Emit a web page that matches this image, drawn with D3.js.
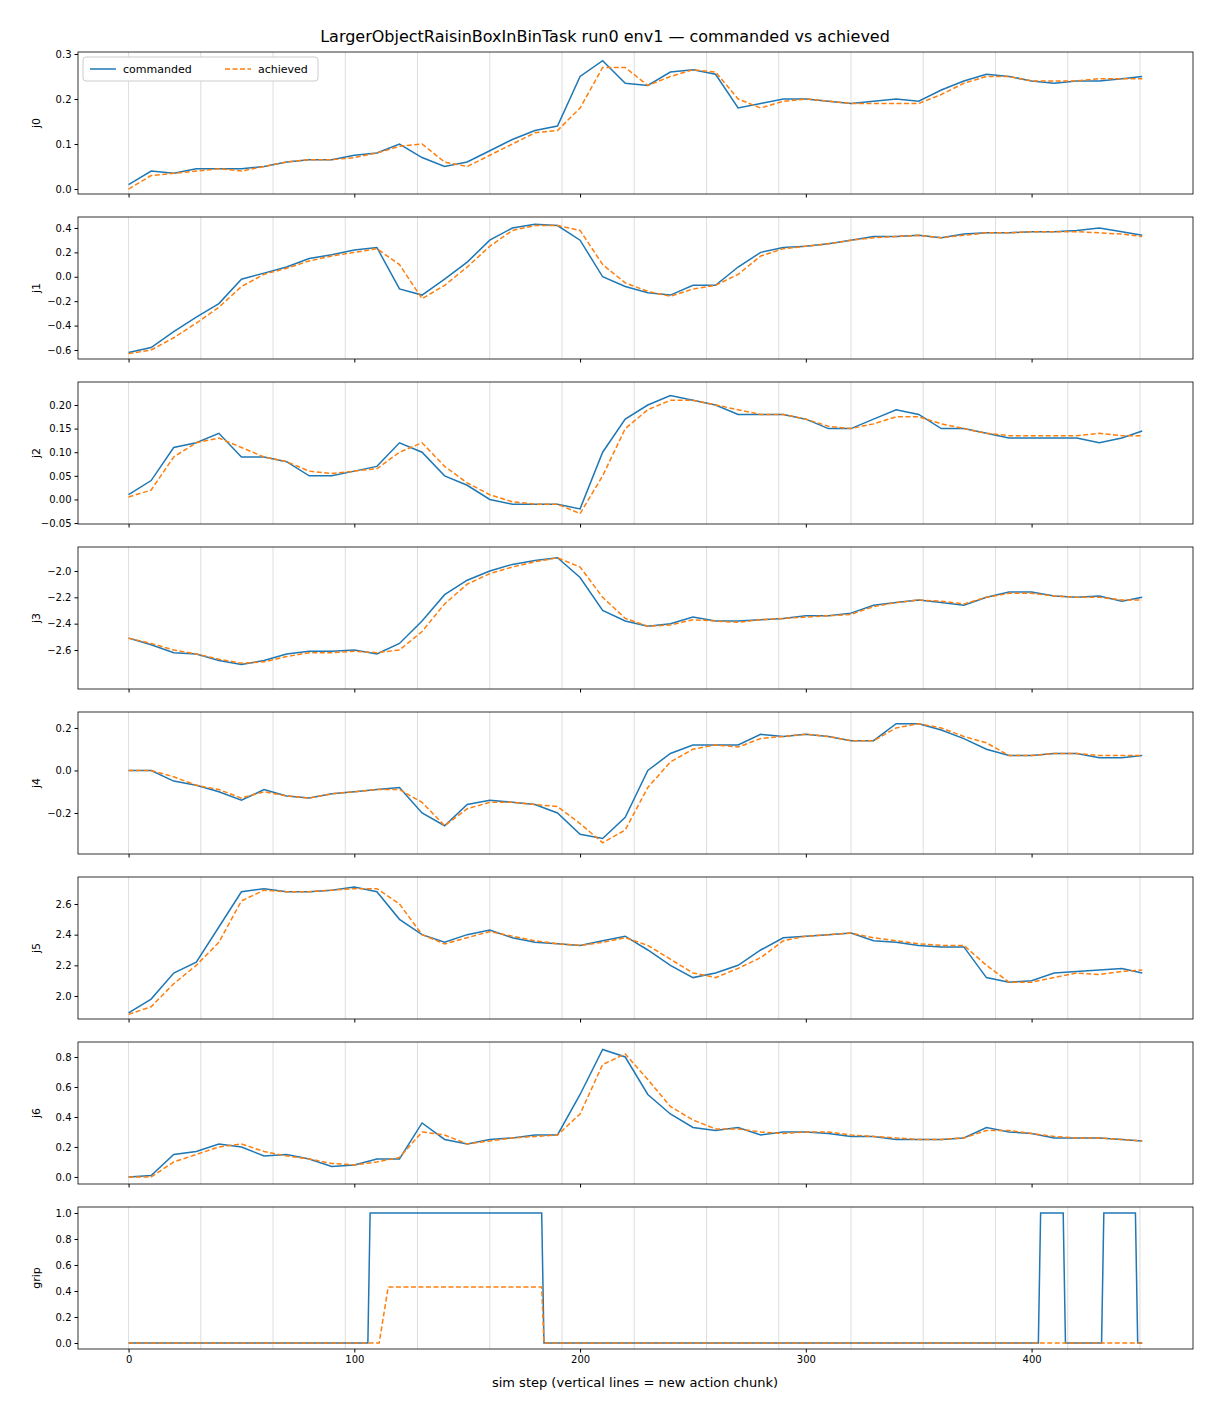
<!DOCTYPE html>
<html><head><meta charset="utf-8">
<script src="https://cdn.jsdelivr.net/npm/d3@7"></script>
<style>body{margin:0;background:#fff;font-family:"DejaVu Sans",sans-serif}</style>
</head><body><div id="chart"></div>
<script>
// sampled every 10 sim steps (last at 449)
const steps = [0,10,20,30,40,50,60,70,80,90,100,110,120,130,140,150,160,170,180,190,200,210,220,230,240,250,260,270,280,290,300,310,320,330,340,350,360,370,380,390,400,410,420,430,440,449];
const joints = ['j0','j1','j2','j3','j4','j5','j6'];
const cmd_j0 = [0.01,0.04,0.035,0.045,0.045,0.045,0.05,0.06,0.065,0.065,0.075,0.08,0.10,0.07,0.05,0.06,0.085,0.11,0.13,0.14,0.25,0.285,0.235,0.23,0.26,0.265,0.255,0.18,0.19,0.2,0.2,0.195,0.19,0.195,0.2,0.195,0.22,0.24,0.255,0.25,0.24,0.235,0.24,0.24,0.245,0.25];
const ach_j0 = [0.0,0.03,0.035,0.04,0.045,0.04,0.05,0.06,0.065,0.065,0.07,0.08,0.095,0.10,0.06,0.05,0.075,0.1,0.125,0.13,0.18,0.27,0.27,0.23,0.25,0.265,0.26,0.2,0.18,0.195,0.2,0.195,0.19,0.19,0.19,0.19,0.21,0.235,0.25,0.25,0.24,0.24,0.24,0.245,0.245,0.245];
const cmd_j1 = [-0.62,-0.58,-0.45,-0.33,-0.22,-0.02,0.03,0.08,0.15,0.18,0.22,0.24,-0.1,-0.15,-0.02,0.12,0.3,0.4,0.43,0.42,0.3,0.0,-0.08,-0.13,-0.15,-0.07,-0.07,0.08,0.2,0.24,0.25,0.27,0.3,0.33,0.33,0.34,0.32,0.35,0.36,0.36,0.37,0.37,0.38,0.4,0.37,0.34];
const ach_j1 = [-0.63,-0.6,-0.5,-0.38,-0.25,-0.08,0.02,0.07,0.13,0.17,0.2,0.23,0.1,-0.18,-0.07,0.08,0.25,0.38,0.42,0.42,0.38,0.1,-0.05,-0.12,-0.16,-0.1,-0.07,0.02,0.17,0.23,0.25,0.27,0.3,0.32,0.33,0.34,0.32,0.34,0.36,0.36,0.37,0.37,0.37,0.36,0.35,0.33];
const cmd_j2 = [0.01,0.04,0.11,0.12,0.14,0.09,0.09,0.08,0.05,0.05,0.06,0.07,0.12,0.1,0.05,0.03,0.0,-0.01,-0.01,-0.01,-0.02,0.1,0.17,0.2,0.22,0.21,0.2,0.18,0.18,0.18,0.17,0.15,0.15,0.17,0.19,0.18,0.15,0.15,0.14,0.13,0.13,0.13,0.13,0.12,0.13,0.145];
const ach_j2 = [0.005,0.02,0.09,0.12,0.13,0.11,0.09,0.08,0.06,0.055,0.06,0.065,0.1,0.12,0.07,0.035,0.01,-0.005,-0.01,-0.01,-0.03,0.05,0.15,0.19,0.21,0.21,0.2,0.19,0.18,0.18,0.17,0.155,0.15,0.16,0.175,0.175,0.16,0.15,0.14,0.135,0.135,0.135,0.135,0.14,0.135,0.135];
const cmd_j3 = [-2.51,-2.56,-2.62,-2.63,-2.68,-2.71,-2.68,-2.63,-2.61,-2.61,-2.6,-2.63,-2.55,-2.38,-2.18,-2.07,-2.0,-1.95,-1.92,-1.9,-2.05,-2.3,-2.38,-2.42,-2.4,-2.35,-2.38,-2.38,-2.37,-2.36,-2.34,-2.34,-2.32,-2.26,-2.24,-2.22,-2.24,-2.26,-2.2,-2.16,-2.16,-2.19,-2.2,-2.19,-2.23,-2.2];
const ach_j3 = [-2.51,-2.55,-2.6,-2.63,-2.67,-2.7,-2.69,-2.65,-2.62,-2.62,-2.61,-2.62,-2.6,-2.46,-2.25,-2.1,-2.02,-1.97,-1.93,-1.9,-1.97,-2.2,-2.36,-2.42,-2.41,-2.37,-2.38,-2.39,-2.37,-2.36,-2.35,-2.34,-2.33,-2.27,-2.24,-2.22,-2.23,-2.25,-2.2,-2.17,-2.17,-2.19,-2.2,-2.2,-2.22,-2.22];
const cmd_j4 = [0.0,0.0,-0.05,-0.07,-0.1,-0.14,-0.09,-0.12,-0.13,-0.11,-0.1,-0.09,-0.08,-0.2,-0.26,-0.16,-0.14,-0.15,-0.16,-0.2,-0.3,-0.32,-0.22,0.0,0.08,0.12,0.12,0.12,0.17,0.16,0.17,0.16,0.14,0.14,0.22,0.22,0.19,0.15,0.1,0.07,0.07,0.08,0.08,0.06,0.06,0.07];
const ach_j4 = [0.0,0.0,-0.03,-0.07,-0.09,-0.13,-0.1,-0.12,-0.13,-0.11,-0.1,-0.09,-0.09,-0.15,-0.26,-0.18,-0.15,-0.15,-0.16,-0.17,-0.25,-0.34,-0.28,-0.08,0.04,0.1,0.12,0.11,0.15,0.16,0.17,0.16,0.14,0.14,0.2,0.22,0.2,0.16,0.13,0.07,0.07,0.08,0.08,0.07,0.07,0.07];
const cmd_j5 = [1.89,1.98,2.15,2.22,2.45,2.68,2.7,2.68,2.68,2.69,2.71,2.68,2.5,2.4,2.35,2.4,2.43,2.38,2.35,2.34,2.33,2.36,2.39,2.3,2.2,2.12,2.15,2.2,2.3,2.38,2.39,2.4,2.41,2.36,2.35,2.33,2.32,2.32,2.12,2.09,2.1,2.15,2.16,2.17,2.18,2.15];
const ach_j5 = [1.88,1.93,2.08,2.2,2.35,2.62,2.69,2.68,2.68,2.69,2.7,2.7,2.6,2.4,2.34,2.38,2.42,2.39,2.36,2.34,2.33,2.35,2.38,2.33,2.24,2.15,2.12,2.18,2.25,2.36,2.39,2.4,2.41,2.38,2.36,2.34,2.33,2.33,2.2,2.09,2.09,2.12,2.15,2.14,2.16,2.17];
const cmd_j6 = [0.0,0.01,0.15,0.17,0.22,0.2,0.14,0.15,0.12,0.07,0.08,0.12,0.12,0.36,0.25,0.22,0.25,0.26,0.28,0.28,0.55,0.85,0.8,0.55,0.42,0.33,0.31,0.33,0.28,0.3,0.3,0.29,0.27,0.27,0.25,0.25,0.25,0.26,0.33,0.3,0.29,0.26,0.26,0.26,0.25,0.24];
const ach_j6 = [0.0,0.0,0.1,0.15,0.2,0.22,0.17,0.14,0.12,0.09,0.08,0.1,0.13,0.3,0.28,0.22,0.24,0.26,0.27,0.28,0.42,0.75,0.82,0.65,0.47,0.38,0.32,0.32,0.3,0.29,0.3,0.3,0.28,0.27,0.26,0.25,0.25,0.26,0.31,0.31,0.29,0.27,0.26,0.26,0.25,0.24];
// gripper: change points
const grip_cmd_x = [0,106,107,183,184,403,404,414,415,431,432,446,447,449];
const grip_cmd_y = [0,0,1,1,0,0,1,1,0,0,1,1,0,0];
const grip_ach_x = [0,111,115,183,184,449];
const grip_ach_y = [0,0,0.43,0.43,0,0];
const chunkStarts = [0,32,64,96,128,160,192,224,256,288,320,352,384,416,448];

const cmd = [cmd_j0,cmd_j1,cmd_j2,cmd_j3,cmd_j4,cmd_j5,cmd_j6];
const ach = [ach_j0,ach_j1,ach_j2,ach_j3,ach_j4,ach_j5,ach_j6];
const yDomains = [[-0.011,0.3044],[-0.674,0.49],[-0.052,0.2487],[-2.896,-1.818],[-0.393,0.275],[1.85,2.776],[-0.047,0.9],[-0.046,1.046]];
const yTicks = [[0,0.1,0.2,0.3],[-0.6,-0.4,-0.2,0,0.2,0.4],[-0.05,0,0.05,0.1,0.15,0.2],[-2.6,-2.4,-2.2,-2.0],[-0.2,0,0.2],[2.0,2.2,2.4,2.6],[0,0.2,0.4,0.6,0.8],[0,0.2,0.4,0.6,0.8,1.0]];
const yFmt = ['.1f','.1f','.2f','.1f','.1f','.1f','.1f','.1f'];

const W = 1210, H = 1408, L = 78, R = 1193, ph = 142;
const tops = [52,217,382,547,712,877,1042,1207];
const blue = '#1f77b4', orange = '#ff7f0e';
const svg = d3.select('#chart').append('svg').attr('width',W).attr('height',H);
const x = d3.scaleLinear().domain([-22.4,471.5]).range([L,R]);

svg.append('text').attr('x',605).attr('y',42).attr('text-anchor','middle')
  .attr('font-size',16).text('LargerObjectRaisinBoxInBinTask run0 env1 — commanded vs achieved');

tops.forEach((t,i)=>{
  const g = svg.append('g');
  const y = d3.scaleLinear().domain(yDomains[i]).range([t+ph,t]);
  g.selectAll('line.chunk').data(chunkStarts).enter().append('line')
    .attr('x1',d=>x(d)).attr('x2',d=>x(d)).attr('y1',t).attr('y2',t+ph)
    .attr('stroke','#ccc').attr('stroke-width',0.8).attr('opacity',0.8);
  let cd, ad;
  if(i<7){ cd = steps.map((s,k)=>[s,cmd[i][k]]); ad = steps.map((s,k)=>[s,ach[i][k]]); }
  else { cd = grip_cmd_x.map((s,k)=>[s,grip_cmd_y[k]]); ad = grip_ach_x.map((s,k)=>[s,grip_ach_y[k]]); }
  const line = d3.line().x(d=>x(d[0])).y(d=>y(d[1]));
  g.append('path').attr('d',line(cd)).attr('fill','none').attr('stroke',blue).attr('stroke-width',1.5);
  g.append('path').attr('d',line(ad)).attr('fill','none').attr('stroke',orange).attr('stroke-width',1.5).attr('stroke-dasharray','5,2.5');
  const ya = g.append('g').attr('transform',`translate(${L},0)`)
    .call(d3.axisLeft(y).tickValues(yTicks[i]).tickFormat(d=>d3.format(yFmt[i])(d).replace('-','−')).tickSize(3.5));
  ya.select('.domain').remove();
  ya.selectAll('text').attr('font-size',10).attr('font-family','DejaVu Sans');
  const xa = g.append('g').attr('transform',`translate(0,${t+ph})`)
    .call(d3.axisBottom(x).tickValues([0,100,200,300,400]).tickSize(3.5).tickFormat(i===7?d3.format('d'):''));
  xa.select('.domain').remove();
  xa.selectAll('text').attr('font-size',10).attr('font-family','DejaVu Sans');
  g.append('rect').attr('x',L).attr('y',t).attr('width',R-L).attr('height',ph)
    .attr('fill','none').attr('stroke','#000').attr('stroke-width',0.8);
  g.append('text').attr('transform',`translate(40,${t+ph/2}) rotate(-90)`)
    .attr('text-anchor','middle').attr('font-size',11).text(i<7?joints[i]:'grip');
});

svg.append('text').attr('x',635).attr('y',1387).attr('text-anchor','middle').attr('font-size',13)
  .text('sim step (vertical lines = new action chunk)');

const lg = svg.append('g').attr('transform','translate(83,57)');
lg.append('rect').attr('width',235).attr('height',24).attr('rx',3).attr('fill','#fff')
  .attr('stroke','#ccc');
[['commanded',blue,null,7],['achieved',orange,'5,2.5',142]].forEach(([n,c,da,ox])=>{
  lg.append('line').attr('x1',ox).attr('x2',ox+26).attr('y1',12).attr('y2',12)
    .attr('stroke',c).attr('stroke-width',1.5).attr('stroke-dasharray',da);
  lg.append('text').attr('x',ox+33).attr('y',16).attr('font-size',11).text(n);
});
</script></body></html>
